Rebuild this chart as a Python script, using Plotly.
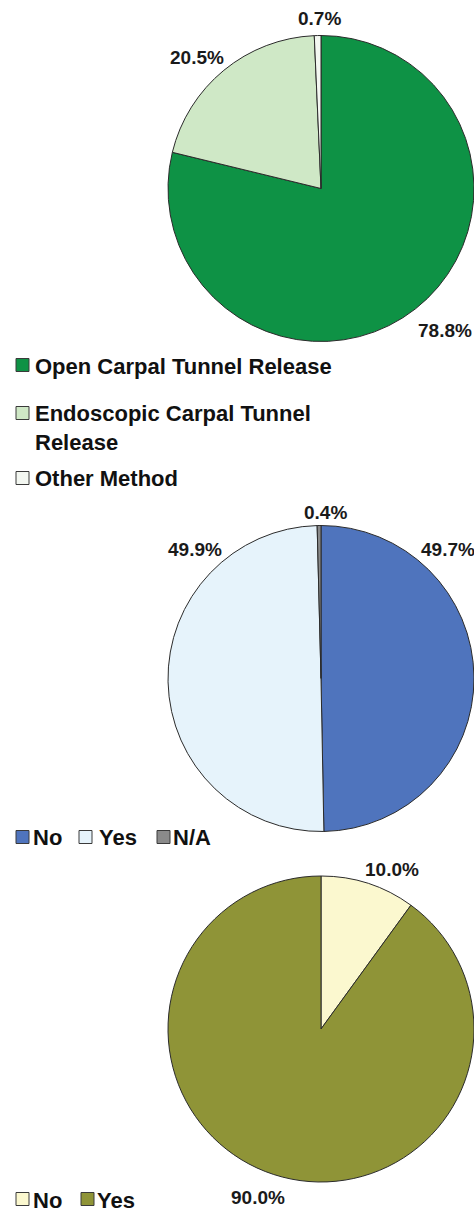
import plotly.graph_objects as go

# ---- data -------------------------------------------------------------
method_labels = ["Open Carpal Tunnel Release", "Endoscopic Carpal Tunnel<br>Release", "Other Method"]
method_values = [78.8, 20.5, 0.7]
method_colors = ["#0e9245", "#cfe8c6", "#f3f7f1"]

second_labels = ["No", "Yes", "N/A"]
second_values = [49.7, 49.9, 0.4]
second_colors = ["#4f74bd", "#e6f3fb", "#8a8a8a"]

third_labels = ["No", "Yes"]
third_values = [10.0, 90.0]
third_colors = ["#fbf8cf", "#8f9437"]

# ---- canvas -----------------------------------------------------------
W, H = 474, 1215
FONT = "Liberation Sans, Arial, sans-serif"


def px(x):
    return x / W


def py(y):
    return 1 - y / H


fig = go.Figure()

# pie boxes in pixel terms: (left, right, top, bottom)
pie_boxes = [(168, 474, 34, 343), (168, 474, 524, 833), (168, 474, 875, 1183)]
pie_sets = [
    (method_labels, method_values, method_colors),
    (second_labels, second_values, second_colors),
    (third_labels, third_values, third_colors),
]

for (l, r, t, b), (labs, vals, cols) in zip(pie_boxes, pie_sets):
    fig.add_trace(go.Pie(
        labels=labs, values=vals,
        marker=dict(colors=cols, line=dict(color="#2b2b2b", width=1)),
        sort=False, direction="clockwise", rotation=0,
        textinfo="none", showlegend=False,
        domain=dict(x=[px(l), px(r)], y=[py(b), py(t)]),
    ))

# ---- percentage labels -------------------------------------------------
label_pos = [
    [(445, 331), (197, 58), (319, 18)],
    [(448, 550), (195, 550), (325, 512)],
    [(392, 869), (258, 1197)],
]
annotations = []
for (labs, vals, cols), positions in zip(pie_sets, label_pos):
    for v, (x, y) in zip(vals, positions):
        annotations.append(dict(
            x=px(x), y=py(y), xref="paper", yref="paper",
            text=f"<b>{v:.1f}%</b>", showarrow=False,
            xanchor="center", yanchor="middle",
            font=dict(family=FONT, size=19, color="#1a1a1a"),
        ))

# ---- legends -----------------------------------------------------------
# each entry: (square left x, square centre y, text left x, text centre y)
legend_pos = [
    [(16, 365, 33, 366), (16, 413, 33, 428), (16, 478, 33, 478)],
    [(16, 837, 31, 838), (79, 837, 97, 838), (157, 837, 171, 838)],
    [(16, 1199, 31, 1200), (81, 1199, 95, 1200)],
]
shapes = []
for (labs, vals, cols), entries in zip(pie_sets, legend_pos):
    for lab, col, (sx, sy, tx, ty) in zip(labs, cols, entries):
        shapes.append(dict(
            type="rect", xref="paper", yref="paper",
            x0=px(sx), x1=px(sx + 13), y0=py(sy + 6.5), y1=py(sy - 6.5),
            fillcolor=col, line=dict(color="#3a3a3a", width=1),
        ))
        annotations.append(dict(
            x=px(tx), y=py(ty), xref="paper", yref="paper",
            text=f"<b>{lab}</b>", showarrow=False, align="left",
            xanchor="left", yanchor="middle",
            font=dict(family=FONT, size=22, color="#111111"),
        ))

fig.update_layout(
    width=W, height=H,
    margin=dict(l=0, r=0, t=0, b=0),
    paper_bgcolor="white", plot_bgcolor="white",
    annotations=annotations, shapes=shapes,
)

fig.write_html("out.html")
